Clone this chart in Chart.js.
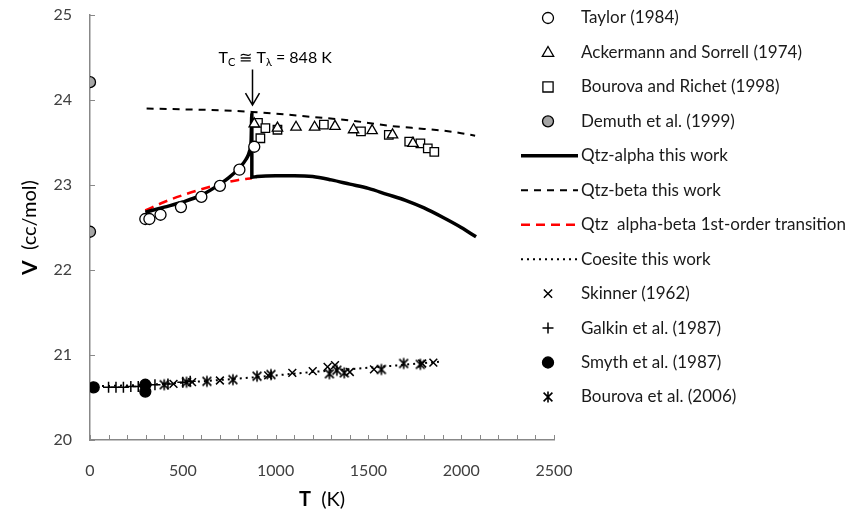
<!DOCTYPE html>
<html>
<head>
<meta charset="utf-8">
<script src="https://cdn.jsdelivr.net/npm/chart.js@4.4.1/dist/chart.umd.min.js"></script>
<style>
  html, body { margin: 0; padding: 0; background: #fff; }
  #wrap { width: 845px; height: 517px; position: relative; }
</style>
</head>
<body>
<div id="wrap"><canvas id="volChart"></canvas></div>
<script>
// Ejes
const xTicks = [0, 500, 1000, 1500, 2000, 2500];
const yTicks = [20, 21, 22, 23, 24, 25];
const jumpT = 872;

// Datos experimentales - cuarzo
const taylorT = [298, 320, 380, 490, 600, 700, 805, 885];
const taylorV = [22.60, 22.60, 22.65, 22.74, 22.86, 22.99, 23.18, 23.45];

const ackermannT = [885, 1010, 1110, 1210, 1320, 1420, 1520, 1630, 1740];
const ackermannV = [23.72, 23.67, 23.68, 23.68, 23.69, 23.65, 23.64, 23.59, 23.49];

const bourovaRichetT = [905, 918, 945, 1010, 1260, 1460, 1610, 1720, 1780, 1820, 1855];
const bourovaRichetV = [23.73, 23.55, 23.67, 23.65, 23.71, 23.63, 23.59, 23.51, 23.49, 23.43, 23.39];

const demuthT = [0, 0];
const demuthV = [24.21, 22.45];

// Curvas calculadas
const alphaT = [298, 400, 500, 600, 700, 750, 800, 840, 860, 868, 872, 872, 900, 1000, 1100, 1200, 1300, 1400, 1500, 1600, 1700, 1800, 1900, 2000, 2080];
const alphaV = [22.68, 22.74, 22.80, 22.88, 23.01, 23.09, 23.19, 23.30, 23.40, 23.52, 23.84, 23.09, 23.10, 23.11, 23.11, 23.10, 23.06, 23.01, 22.96, 22.89, 22.82, 22.73, 22.62, 22.50, 22.39];

const betaT = [305, 500, 700, 872, 1000, 1200, 1400, 1600, 1800, 1900, 2000, 2075];
const betaV = [23.90, 23.89, 23.88, 23.86, 23.84, 23.80, 23.76, 23.70, 23.66, 23.64, 23.61, 23.58];

const transT = [298, 400, 500, 600, 700, 800, 872];
const transV = [22.70, 22.80, 22.88, 22.95, 23.01, 23.06, 23.08];

const coesiteT = [0, 300, 600, 900, 1200, 1500, 1880];
const coesiteV = [20.63, 20.65, 20.69, 20.74, 20.80, 20.85, 20.92];

// Datos experimentales - coesita
const skinnerT = [450, 550, 700, 960, 1090, 1200, 1280, 1320, 1400, 1530, 1790, 1850];
const skinnerV = [20.66, 20.68, 20.70, 20.76, 20.79, 20.81, 20.86, 20.88, 20.80, 20.83, 20.90, 20.91];

const galkinT = [100, 140, 180, 220, 260, 300, 350, 420, 500, 540];
const galkinV = [20.62, 20.62, 20.62, 20.63, 20.63, 20.64, 20.65, 20.66, 20.68, 20.69];

const smythT = [20, 298, 298];
const smythV = [20.62, 20.65, 20.57];

const bourova06T = [400, 520, 630, 770, 900, 975, 1290, 1330, 1370, 1570, 1690, 1780];
const bourova06V = [20.65, 20.68, 20.69, 20.71, 20.75, 20.77, 20.78, 20.82, 20.79, 20.83, 20.90, 20.89];

const FONT = "Lato, 'Open Sans', sans-serif";
const toXY = (ts, vs) => ts.map((t, i) => ({ x: t, y: vs[i] }));

// Marcador asterisco (x con barra vertical)
function makeAsterisk(r) {
    const c = document.createElement('canvas');
    const s = Math.ceil(r * 2 + 3);
    c.width = s; c.height = s;
    const g = c.getContext('2d');
    const m = s / 2;
    g.strokeStyle = '#000';
    g.lineWidth = 1.6;
    g.beginPath();
    g.moveTo(m - r * 0.8, m - r * 0.8); g.lineTo(m + r * 0.8, m + r * 0.8);
    g.moveTo(m + r * 0.8, m - r * 0.8); g.lineTo(m - r * 0.8, m + r * 0.8);
    g.moveTo(m, m - r); g.lineTo(m, m + r);
    g.stroke();
    return c;
}
const asterisk = makeAsterisk(5.5);

function pointSet(label, ts, vs, style, fill, extra) {
    return Object.assign({
        label: label,
        data: toXY(ts, vs),
        showLine: false,
        pointStyle: style,
        pointRadius: 5.5,
        pointBackgroundColor: fill,
        pointBorderColor: '#000',
        pointBorderWidth: 1.3
    }, extra || {});
}

function lineSet(label, ts, vs, color, width, dash) {
    return {
        label: label,
        data: toXY(ts, vs),
        showLine: true,
        borderColor: color,
        borderWidth: width,
        borderDash: dash,
        pointRadius: 0,
        tension: 0.3,
        cubicInterpolationMode: 'monotone'
    };
}

const datasets = [
    pointSet('Taylor (1984)', taylorT, taylorV, 'circle', '#fff'),
    pointSet('Ackermann and Sorrell (1974)', ackermannT, ackermannV, 'triangle', '#fff', { pointRadius: 6 }),
    pointSet('Bourova and Richet (1998)', bourovaRichetT, bourovaRichetV, 'rect', '#fff', { pointRadius: 6 }),
    pointSet('Demuth et al. (1999)', demuthT, demuthV, 'circle', '#a5a5a5'),
    lineSet('Qtz-alpha this work', alphaT, alphaV, '#000', 3.5, []),
    lineSet('Qtz-beta this work', betaT, betaV, '#000', 2, [7, 6]),
    lineSet('Qtz  alpha-beta 1st-order transition', transT, transV, '#ff0000', 2.5, [9, 6]),
    lineSet('Coesite this work', coesiteT, coesiteV, '#000', 2, [2, 4]),
    pointSet('Skinner (1962)', skinnerT, skinnerV, 'crossRot', '#000', { pointBorderWidth: 1.5 }),
    pointSet('Galkin et al. (1987)', galkinT, galkinV, 'cross', '#000', { pointBorderWidth: 1.5 }),
    pointSet('Smyth et al. (1987)', smythT, smythV, 'circle', '#000'),
    pointSet('Bourova et al. (2006)', bourova06T, bourova06V, asterisk, '#000')
];
// las curvas quedan debajo de los marcadores
datasets.forEach((d, i) => { d.order = d.showLine ? 20 + i : i; });

function drawMarker(ctx, ds, x, y) {
    const r = ds.pointRadius;
    const style = ds.pointStyle;
    ctx.save();
    ctx.fillStyle = ds.pointBackgroundColor;
    ctx.strokeStyle = '#000';
    ctx.lineWidth = ds.pointBorderWidth;
    ctx.beginPath();
    if (style === 'circle') {
        ctx.arc(x, y, r, 0, Math.PI * 2);
        ctx.fill(); ctx.stroke();
    } else if (style === 'triangle') {
        ctx.moveTo(x, y - r);
        ctx.lineTo(x + r * 0.95, y + r * 0.65);
        ctx.lineTo(x - r * 0.95, y + r * 0.65);
        ctx.closePath();
        ctx.fill(); ctx.stroke();
    } else if (style === 'rect') {
        const h = r * 0.85;
        ctx.rect(x - h, y - h, h * 2, h * 2);
        ctx.fill(); ctx.stroke();
    } else if (style === 'crossRot') {
        const h = r * 0.75;
        ctx.moveTo(x - h, y - h); ctx.lineTo(x + h, y + h);
        ctx.moveTo(x + h, y - h); ctx.lineTo(x - h, y + h);
        ctx.stroke();
    } else if (style === 'cross') {
        ctx.moveTo(x - r, y); ctx.lineTo(x + r, y);
        ctx.moveTo(x, y - r); ctx.lineTo(x, y + r);
        ctx.stroke();
    } else {
        ctx.drawImage(style, x - style.width / 2, y - style.height / 2);
    }
    ctx.restore();
}

const extrasPlugin = {
    id: 'extras',
    afterDraw(chart) {
        const ctx = chart.ctx;
        const xs = chart.scales.x, ys = chart.scales.y;
        ctx.save();

        // marcas de los ejes, hacia adentro
        ctx.strokeStyle = '#888';
        ctx.lineWidth = 1;
        ctx.beginPath();
        xs.ticks.forEach(t => {
            const px = Math.round(xs.getPixelForValue(t.value)) + 0.5;
            ctx.moveTo(px, ys.bottom); ctx.lineTo(px, ys.bottom - 5);
        });
        ys.ticks.forEach(t => {
            const py = Math.round(ys.getPixelForValue(t.value)) + 0.5;
            ctx.moveTo(xs.left, py); ctx.lineTo(xs.left + 5, py);
        });
        ctx.stroke();

        // etiquetas del eje V
        ctx.fillStyle = '#404040';
        ctx.font = '16px ' + FONT;
        ctx.textAlign = 'right';
        ctx.textBaseline = 'middle';
        ys.ticks.forEach(t => {
            ctx.fillText(String(t.value), xs.left - 18, ys.getPixelForValue(t.value));
        });

        // títulos de ejes
        ctx.fillStyle = '#000';
        const cx = (xs.left + xs.right) / 2;
        ctx.font = 'bold 20px ' + FONT;
        const wT = ctx.measureText('T').width;
        ctx.font = '20px ' + FONT;
        const wK = ctx.measureText('  (K)').width;
        let x0 = cx - (wT + wK) / 2;
        ctx.textAlign = 'left';
        ctx.font = 'bold 20px ' + FONT;
        ctx.fillText('T', x0, 500);
        ctx.font = '20px ' + FONT;
        ctx.fillText('  (K)', x0 + wT, 500);

        const cy = (ys.top + ys.bottom) / 2;
        ctx.save();
        ctx.translate(30, cy);
        ctx.rotate(-Math.PI / 2);
        ctx.font = 'bold 21px ' + FONT;
        const wV = ctx.measureText('V').width;
        ctx.font = '20px ' + FONT;
        const wU = ctx.measureText('  (cc/mol)').width;
        x0 = -(wV + wU) / 2;
        ctx.font = 'bold 21px ' + FONT;
        ctx.fillText('V', x0, 0);
        ctx.font = '20px ' + FONT;
        ctx.fillText('  (cc/mol)', x0 + wV, 0);
        ctx.restore();

        // flecha de la transición
        const ax = Math.round(xs.getPixelForValue(jumpT)) + 0.5;
        const tipY = ys.getPixelForValue(23.94);
        const topY = ys.getPixelForValue(24.36);
        ctx.strokeStyle = '#000';
        ctx.lineWidth = 1.5;
        ctx.beginPath();
        ctx.moveTo(ax, topY); ctx.lineTo(ax, tipY);
        ctx.moveTo(ax - 7, tipY - 12); ctx.lineTo(ax, tipY); ctx.lineTo(ax + 7, tipY - 12);
        ctx.stroke();

        const parts = [['T', 16, 0], ['C', 11, 5], [' \u2245 T', 16, 0], ['\u03bb', 11, 5], [' = 848 K', 16, 0]];
        let tx = ax - 34;
        const baseY = topY - 12;
        ctx.fillStyle = '#000';
        parts.forEach(p => {
            ctx.font = p[1] + 'px ' + FONT;
            ctx.fillText(p[0], tx, baseY + p[2]);
            tx += ctx.measureText(p[0]).width;
        });

        // leyenda
        const rowH = 34.45;
        ctx.font = '17px ' + FONT;
        ctx.fillStyle = '#1a1a1a';
        chart.data.datasets.forEach((ds, i) => {
            const y = 18 + i * rowH;
            if (ds.showLine) {
                ctx.save();
                ctx.strokeStyle = ds.borderColor;
                ctx.lineWidth = ds.borderWidth;
                ctx.setLineDash(ds.borderDash);
                ctx.beginPath();
                ctx.moveTo(521, y); ctx.lineTo(578, y);
                ctx.stroke();
                ctx.restore();
            } else {
                drawMarker(ctx, ds, 548, y);
            }
            ctx.fillText(ds.label, 581, y);
        });
        ctx.restore();
    }
};

new Chart(document.getElementById('volChart'), {
    type: 'scatter',
    data: { datasets: datasets },
    options: {
        responsive: true,
        maintainAspectRatio: false,
        animation: false,
        layout: { padding: { top: 15, right: 291, left: 0, bottom: 0 } },
        plugins: { legend: { display: false }, tooltip: { enabled: false } },
        scales: {
            x: {
                type: 'linear',
                min: 0, max: 2500,
                afterFit: s => { s.height = 77; },
                afterBuildTicks: s => { s.ticks = []; for (let v = 0; v <= 2500; v += 100) s.ticks.push({ value: v }); },
                grid: { display: false, drawTicks: false },
                border: { color: '#888', width: 1.5 },
                ticks: {
                    autoSkip: false,
                    maxRotation: 0,
                    padding: 21,
                    color: '#404040',
                    font: { family: FONT, size: 16 },
                    callback: v => xTicks.includes(v) ? String(v) : ''
                }
            },
            y: {
                type: 'linear',
                min: 20, max: 25,
                afterFit: s => { s.width = 90; },
                afterBuildTicks: s => { s.ticks = yTicks.map(v => ({ value: v })); },
                grid: { display: false, drawTicks: false },
                border: { color: '#888', width: 1.5 },
                ticks: { display: false }
            }
        }
    },
    plugins: [extrasPlugin]
});
</script>
</body>
</html>
